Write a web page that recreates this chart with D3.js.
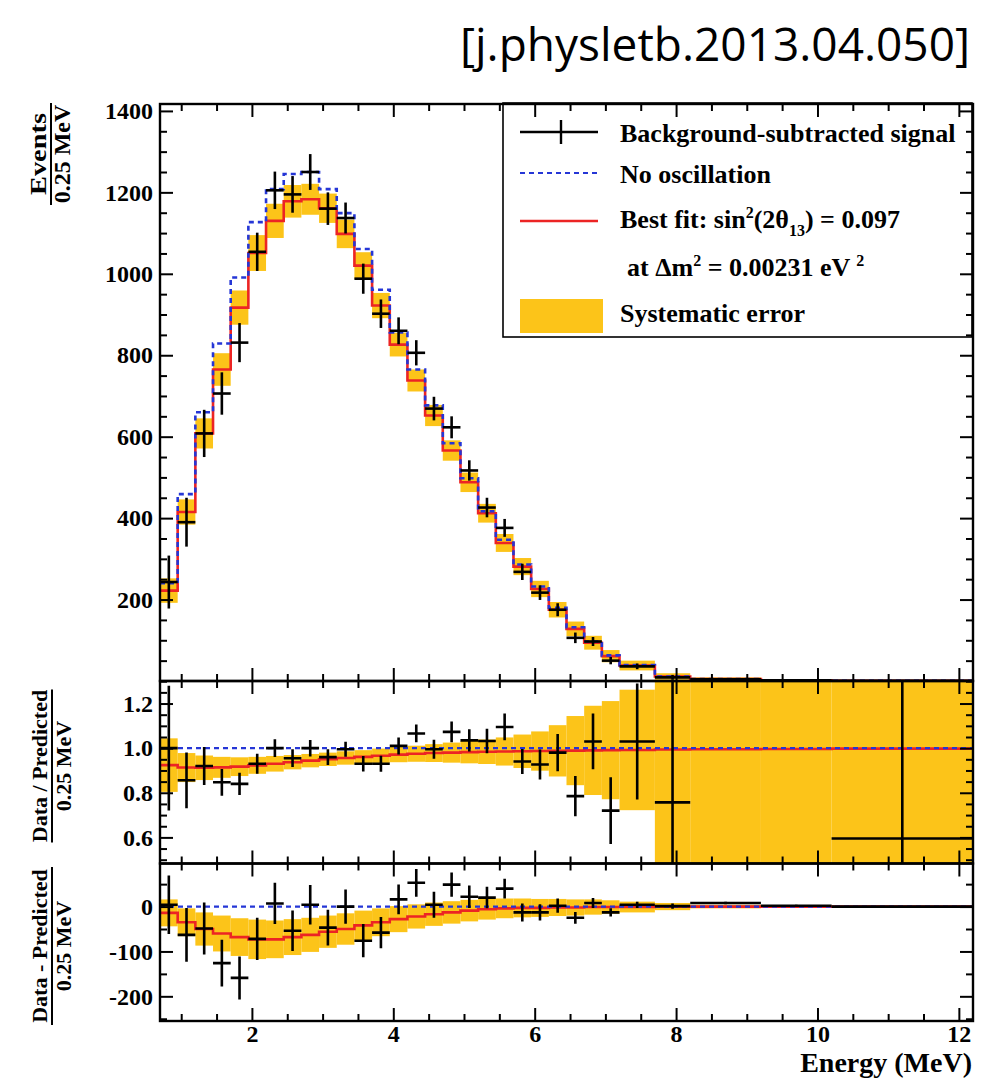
<!doctype html>
<html lang="en">
<head>
<meta charset="utf-8">
<title>Background-subtracted spectrum vs prediction</title>
<script src="https://d3js.org/d3.v7.min.js"></script>
<style>
  body { margin: 0; background: #fff; }
  text { fill: #000; }
</style>
</head>
<body>
<div id="chart"></div>
<script>
// bin edges in MeV (0.25 MeV bins up to 7.2, wider above)
const binEdges = [0.7, 0.95, 1.2, 1.45, 1.7, 1.95, 2.2, 2.45, 2.7, 2.95, 3.2, 3.45, 3.7, 3.95, 4.2, 4.45,
  4.7, 4.95, 5.2, 5.45, 5.7, 5.95, 6.2, 6.45, 6.7, 6.95, 7.2, 7.7, 8.2, 9.2, 10.2, 12.2];

// top panel, events / 0.25 MeV
const signal   = [243, 390, 608, 706, 831, 1054, 1205, 1195, 1250, 1160, 1137, 988, 902, 860, 806, 669,
  623, 517, 426, 376, 268, 217, 175, 106, 97, 50, 36, 9, 4, 2, 0.5];
const signalErr = [65, 60, 58, 52, 48, 47, 46, 45, 44, 40, 38, 37, 35, 33, 31, 29,
  27, 25, 24, 22, 20, 18, 16, 13, 11, 9, 7, 6, 3, 2, 1];
const noOsc    = [240, 459, 660, 829, 991, 1127, 1208, 1245, 1250, 1208, 1149, 1061, 961, 856, 765, 677,
  584, 498, 417, 347, 286, 232, 180, 132, 97, 63, 39, 11, 5, 2, 0.5];
const bestFit  = [222, 415, 608, 765, 917, 1051, 1130, 1178, 1183, 1161, 1098, 1020, 922, 826, 738, 652,
  566, 488, 412, 339, 281, 226, 175, 128, 94, 61, 38, 11, 5, 2, 0.5];
const systErr  = [30, 31, 37, 40, 42, 44, 42, 40, 38, 36, 35, 33, 31, 29, 27, 26,
  25, 24, 23, 22, 21, 20, 19, 18, 17, 15, 12, 8, 4, 2, 1];

// middle panel, data / predicted (null = off scale)
const ratio    = [1.0, 0.856, 0.92, 0.847, 0.84, 0.93, 1.0, 0.955, 1.0, 0.96, 0.995, 0.93, 0.93, 1.01, 1.066, 0.995,
  1.073, 1.035, 1.032, 1.095, 0.94, 0.927, 0.98, 0.785, 1.03, 0.72, 1.03, 0.757, null, null, 0.595];
const ratioErr = [0.28, 0.125, 0.085, 0.06, 0.05, 0.045, 0.04, 0.04, 0.037, 0.035, 0.034, 0.035, 0.036, 0.038, 0.04, 0.043,
  0.046, 0.05, 0.055, 0.06, 0.056, 0.067, 0.083, 0.09, 0.125, 0.15, 0.26, 1.0, null, null, 1.0];
const ratioFit = [0.924, 0.913, 0.912, 0.914, 0.917, 0.923, 0.93, 0.937, 0.944, 0.95, 0.956, 0.961, 0.966, 0.971, 0.975, 0.978,
  0.98, 0.982, 0.984, 0.985, 0.986, 0.987, 0.988, 0.989, 0.99, 0.991, 0.992, 0.994, 0.995, 0.996, 0.998];
const ratioSyst = [0.12, 0.065, 0.055, 0.047, 0.042, 0.038, 0.035, 0.032, 0.03, 0.03, 0.03, 0.03, 0.032, 0.034, 0.036, 0.04,
  0.045, 0.05, 0.055, 0.063, 0.075, 0.088, 0.115, 0.155, 0.2, 0.22, 0.27, 1, 1, 1, 1];

// bottom panel, data - predicted (events / 0.25 MeV)
const diff     = [4, -63, -49, -126, -159, -72, 7, -54, 4, -47, 0, -76, -58, 16, 53, 4,
  49, 22, 20, 40, -13, -13, 2, -25, 8, -13, 4, 1, 8, 2, 0];
const diffFit  = [-14, -35, -50, -60, -68, -73, -73, -68, -63, -56, -50, -42, -35, -28, -22, -17,
  -13, -9, -6, -4, -3, -3, -2, -2, -1, -1, -1, 0, 0, 0, 0];

const xMajor = [2, 4, 6, 8, 10, 12];

const RED = "#ec2424", BLUE = "#2536d6", YELLOW = "#fcc419";
const SERIF = '"Liberation Serif", "Times New Roman", serif';

const svg = d3.select("#chart").append("svg")
  .attr("width", 998).attr("height", 1081)
  .style("background", "#fff");

const x = d3.scaleLinear().domain([0.7, 12.2]).range([160, 973]);

// plain hyphen for negative labels, like the original
const plain = d => String(+d.toFixed(1));
const panels = [
  { id: "main", y: d3.scaleLinear().domain([0, 1417]).range([681, 104]),
    major: [200, 400, 600, 800, 1000, 1200, 1400], minor: d3.range(50, 1401, 50), fmt: plain },
  { id: "ratio", y: d3.scaleLinear().domain([0.483, 1.301]).range([863.5, 681]),
    major: [0.6, 0.8, 1.0, 1.2], minor: d3.range(0.5, 1.31, 0.05), fmt: d3.format(".1f") },
  { id: "diff", y: d3.scaleLinear().domain([-255, 96]).range([1021, 863.5]),
    major: [-200, -100, 0], minor: d3.range(-250, 51, 50), fmt: plain }
];

const defs = svg.append("defs");
panels.forEach(p => {
  const [y0, y1] = p.y.range();
  defs.append("clipPath").attr("id", "clip-" + p.id)
    .append("rect").attr("x", 160).attr("y", y1).attr("width", 813).attr("height", y0 - y1);
});

function stepPath(y, vals) {
  const pts = vals.map((v, i) => [binEdges[i], v]);
  pts.push([binEdges[binEdges.length - 1], vals[vals.length - 1]]);
  return d3.line().x(d => x(d[0])).y(d => y(d[1])).curve(d3.curveStepAfter)(pts);
}

function drawBand(g, y, center, half) {
  g.append("g").selectAll("rect")
    .data(center.map((c, i) => ({ c, h: half[i], i })))
    .join("rect")
      .attr("x", d => x(binEdges[d.i]))
      .attr("width", d => x(binEdges[d.i + 1]) - x(binEdges[d.i]))
      .attr("y", d => y(d.c + d.h))
      .attr("height", d => y(d.c - d.h) - y(d.c + d.h))
      .attr("fill", YELLOW);
}

function drawPoints(g, y, vals, errs) {
  const pts = vals.map((v, i) => ({ v, e: errs[i], i })).filter(d => d.v !== null);
  const cg = g.append("g").attr("stroke", "#000").attr("stroke-width", 2.6);
  cg.selectAll("line.h").data(pts).join("line").attr("class", "h")
    .attr("x1", d => x(binEdges[d.i])).attr("x2", d => x(binEdges[d.i + 1]))
    .attr("y1", d => y(d.v)).attr("y2", d => y(d.v));
  cg.selectAll("line.v").data(pts).join("line").attr("class", "v")
    .attr("x1", d => x((binEdges[d.i] + binEdges[d.i + 1]) / 2))
    .attr("x2", d => x((binEdges[d.i] + binEdges[d.i + 1]) / 2))
    .attr("y1", d => y(d.v - d.e)).attr("y2", d => y(d.v + d.e));
}

// ---- top panel
{
  const p = panels[0];
  const g = svg.append("g").attr("clip-path", "url(#clip-main)");
  drawBand(g, p.y, bestFit, systErr);
  g.append("path").attr("d", stepPath(p.y, bestFit)).attr("fill", "none")
    .attr("stroke", RED).attr("stroke-width", 2.6);
  g.append("path").attr("d", stepPath(p.y, noOsc)).attr("fill", "none")
    .attr("stroke", BLUE).attr("stroke-width", 2.6).attr("stroke-dasharray", "5,4");
  drawPoints(g, p.y, signal, signalErr);
}

// ---- ratio panel
{
  const p = panels[1];
  const g = svg.append("g").attr("clip-path", "url(#clip-ratio)");
  drawBand(g, p.y, ratioFit, ratioSyst);
  g.append("path").attr("d", stepPath(p.y, ratioFit)).attr("fill", "none")
    .attr("stroke", RED).attr("stroke-width", 2.6);
  g.append("line").attr("x1", 160).attr("x2", 973).attr("y1", p.y(1)).attr("y2", p.y(1))
    .attr("stroke", BLUE).attr("stroke-width", 2.2).attr("stroke-dasharray", "5,4");
  drawPoints(g, p.y, ratio, ratioErr);
}

// ---- difference panel
{
  const p = panels[2];
  const g = svg.append("g").attr("clip-path", "url(#clip-diff)");
  drawBand(g, p.y, diffFit, systErr);
  g.append("path").attr("d", stepPath(p.y, diffFit)).attr("fill", "none")
    .attr("stroke", RED).attr("stroke-width", 2.6);
  g.append("line").attr("x1", 160).attr("x2", 973).attr("y1", p.y(0)).attr("y2", p.y(0))
    .attr("stroke", BLUE).attr("stroke-width", 2.2).attr("stroke-dasharray", "5,4");
  drawPoints(g, p.y, diff, signalErr);
}

// ---- legend (drawn before the frames so the axes stay on top)
{
  const lg = svg.append("g").attr("font-family", SERIF).attr("font-weight", "bold").attr("font-size", 26);
  lg.append("rect").attr("x", 503).attr("y", 103).attr("width", 469).attr("height", 234)
    .attr("fill", "#fff").attr("stroke", "#000").attr("stroke-width", 1.6);
  lg.append("line").attr("x1", 520).attr("x2", 598).attr("y1", 132).attr("y2", 132)
    .attr("stroke", "#000").attr("stroke-width", 2.4);
  lg.append("line").attr("x1", 561).attr("x2", 561).attr("y1", 120).attr("y2", 144)
    .attr("stroke", "#000").attr("stroke-width", 2.4);
  lg.append("text").attr("x", 620).attr("y", 142).text("Background-subtracted signal");

  lg.append("line").attr("x1", 520).attr("x2", 598).attr("y1", 173).attr("y2", 173)
    .attr("stroke", BLUE).attr("stroke-width", 2.2).attr("stroke-dasharray", "5,4");
  lg.append("text").attr("x", 620).attr("y", 183).text("No oscillation");

  lg.append("line").attr("x1", 520).attr("x2", 598).attr("y1", 221).attr("y2", 221)
    .attr("stroke", RED).attr("stroke-width", 2.4);
  const t1 = lg.append("text").attr("x", 620).attr("y", 228);
  t1.append("tspan").text("Best fit: sin");
  t1.append("tspan").attr("dy", -10).attr("font-size", 16).text("2");
  t1.append("tspan").attr("dy", 10).text("(2θ");
  t1.append("tspan").attr("dy", 8).attr("font-size", 16).text("13");
  t1.append("tspan").attr("dy", -8).text(") = 0.097");

  const t2 = lg.append("text").attr("x", 627).attr("y", 276);
  t2.append("tspan").text("at Δm");
  t2.append("tspan").attr("dy", -10).attr("font-size", 16).text("2");
  t2.append("tspan").attr("dy", 10).text(" = 0.00231 eV ");
  t2.append("tspan").attr("dy", -10).attr("font-size", 16).text("2");

  lg.append("rect").attr("x", 520).attr("y", 299).attr("width", 83).attr("height", 34).attr("fill", YELLOW);
  lg.append("text").attr("x", 620).attr("y", 322).text("Systematic error");
}

// ---- frames and ticks
const xMinor = d3.range(1, 12.01, 0.5).filter(v => !xMajor.includes(v));
panels.forEach((p, k) => {
  const [yb, yt] = p.y.range();
  const yMinor = p.minor.filter(v => !p.major.some(m => Math.abs(m - v) < 1e-6));
  const ax = svg.append("g");
  const add = (axis, tr) => ax.append("g").attr("transform", tr).call(axis)
    .call(s => s.select(".domain").remove())
    .call(s => s.selectAll("line").attr("stroke-width", 2));

  add(d3.axisBottom(x).tickValues(xMajor).tickSize(-13).tickFormat(k === 2 ? d3.format("d") : "").tickPadding(4),
    `translate(0,${yb})`);
  add(d3.axisBottom(x).tickValues(xMinor).tickSize(-7).tickFormat(""), `translate(0,${yb})`);
  add(d3.axisTop(x).tickValues(xMajor).tickSize(-13).tickFormat(""), `translate(0,${yt})`);
  add(d3.axisTop(x).tickValues(xMinor).tickSize(-7).tickFormat(""), `translate(0,${yt})`);

  add(d3.axisLeft(p.y).tickValues(p.major).tickSize(-13).tickFormat(p.fmt).tickPadding(7), "translate(160,0)");
  add(d3.axisLeft(p.y).tickValues(yMinor).tickSize(-7).tickFormat(""), "translate(160,0)");
  add(d3.axisRight(p.y).tickValues(p.major).tickSize(-13).tickFormat(""), "translate(973,0)");
  add(d3.axisRight(p.y).tickValues(yMinor).tickSize(-7).tickFormat(""), "translate(973,0)");

  ax.selectAll("text").attr("font-family", SERIF).attr("font-weight", "bold").attr("font-size", 24)
    .attr("fill", "#000");

  svg.append("rect").attr("x", 160).attr("y", yt).attr("width", 813).attr("height", yb - yt)
    .attr("fill", "none").attr("stroke", "#000").attr("stroke-width", 2.4);
});

// ---- axis titles (fractions)
function fracTitle(cx, cy, top, bottom, barLen, size, topLen) {
  const g = svg.append("g").attr("transform", `translate(${cx},${cy}) rotate(-90)`)
    .attr("font-family", SERIF).attr("font-weight", "bold").attr("font-size", size)
    .attr("text-anchor", "middle");
  const tt = g.append("text").attr("x", 0).attr("y", -5).text(top);
  if (topLen) tt.attr("textLength", topLen).attr("lengthAdjust", "spacingAndGlyphs");
  g.append("line").attr("x1", -barLen / 2).attr("x2", barLen / 2).attr("y1", 0).attr("y2", 0)
    .attr("stroke", "#000").attr("stroke-width", 2);
  g.append("text").attr("x", 0).attr("y", 19).text(bottom);
}
fracTitle(51, 154, "Events", "0.25 MeV", 102, 24, 82);
fracTitle(52, 766, "Data / Predicted", "0.25 MeV", 153, 22);
fracTitle(52, 946, "Data - Predicted", "0.25 MeV", 158, 22);

svg.append("text").attr("x", 972).attr("y", 1072).attr("text-anchor", "end")
  .attr("font-family", SERIF).attr("font-weight", "bold").attr("font-size", 28)
  .text("Energy (MeV)");

svg.append("text").attr("x", 970).attr("y", 61).attr("text-anchor", "end")
  .attr("font-family", '"Open Sans", "Noto Sans", sans-serif').attr("font-size", 46)
  .text("[j.physletb.2013.04.050]");
</script>
</body>
</html>
